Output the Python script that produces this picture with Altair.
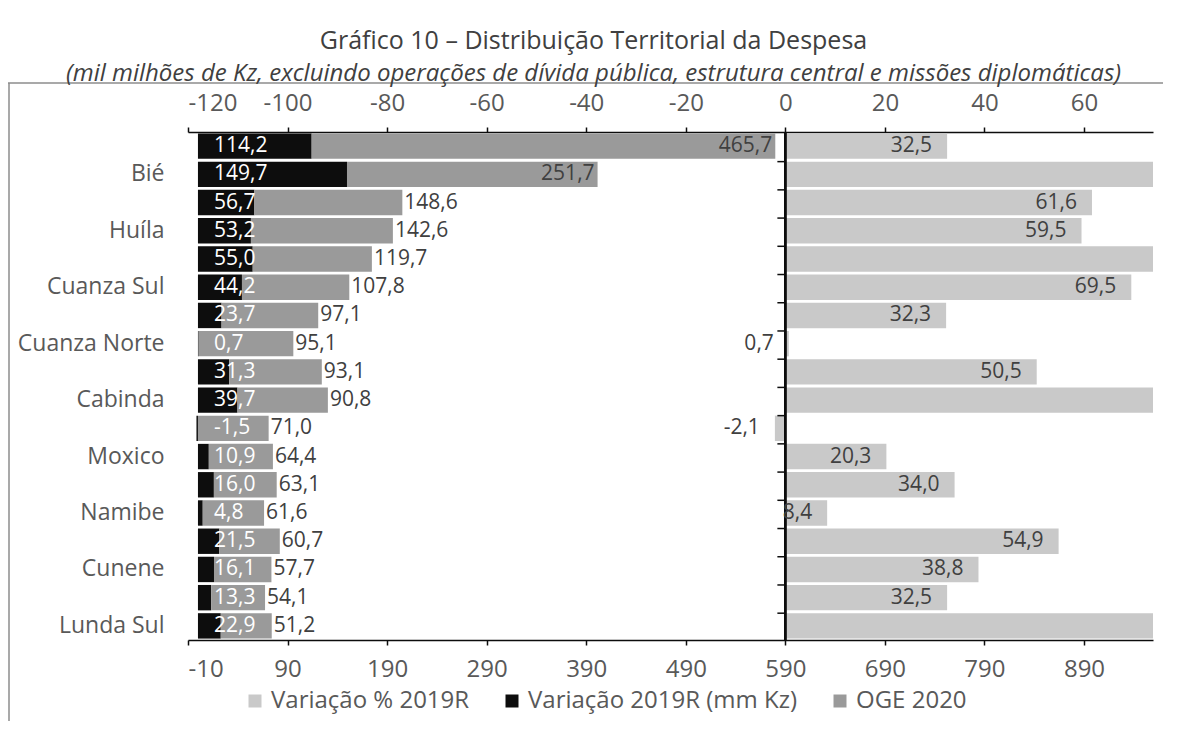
import json
import altair as alt
import pandas as pd

# ---------------- data ----------------
provinces = ["Luanda", "Bié", "Benguela", "Huíla", "Huambo", "Cuanza Sul",
             "Malanje", "Cuanza Norte", "Uíge", "Cabinda", "Zaire", "Moxico",
             "Lunda Norte", "Namibe", "Cuando Cubango", "Cunene", "Bengo", "Lunda Sul"]
shown_labels = ["Bié", "Huíla", "Cuanza Sul", "Cuanza Norte", "Cabinda",
                "Moxico", "Namibe", "Cunene", "Lunda Sul"]
var_mm = [114.2, 149.7, 56.7, 53.2, 55.0, 44.2, 23.7, 0.7, 31.3, 39.7,
          -1.5, 10.9, 16.0, 4.8, 21.5, 16.1, 13.3, 22.9]
oge = [465.7, 251.7, 148.6, 142.6, 119.7, 107.8, 97.1, 95.1, 93.1, 90.8,
       71.0, 64.4, 63.1, 61.6, 60.7, 57.7, 54.1, 51.2]
var_pct = [32.5, 146.8, 61.6, 59.5, 85.0, 69.5, 32.3, 0.7, 50.5, 77.7,
           -2.1, 20.3, 34.0, 8.4, 54.9, 38.8, 32.5, 80.9]

series_names = ["Variação % 2019R", "Variação 2019R (mm Kz)", "OGE 2020"]
series_colors = ["#c9c9c9", "#0d0d0d", "#9a9a9a"]

mm_domain = [-10, 959.3]
pct_domain = [-120, 73.86]
mm_ticks = list(range(-10, 891, 100))
pct_ticks = list(range(-120, 61, 20))

FONT = "Open Sans"
GREY_TXT = "#595959"
DARK_TXT = "#404040"

# ---------------- tables ----------------
df = pd.DataFrame({"prov": provinces, "idx": list(range(len(provinces))),
                   "var_mm": var_mm, "oge": oge, "pct": var_pct})
long = pd.concat([
    pd.DataFrame({"prov": provinces, "value": var_mm,
                  "series": series_names[1], "ord": 0}),
    pd.DataFrame({"prov": provinces, "value": oge,
                  "series": series_names[2], "ord": 1}),
], ignore_index=True)

def lab(field):
    return f"replace(replace(format(datum.{field}, '.1f'), '.', ','), '\u2212', '-')"

label_expr = (f"indexof({json.dumps(shown_labels, ensure_ascii=False)}, datum.value) >= 0"
              " ? datum.value : ''")

y_scale = alt.Scale(paddingInner=0.1, paddingOuter=0.05)
y_axis = alt.Axis(orient="left", domain=False, ticks=False, title=None,
                  labelExpr=label_expr, labelFont=FONT, labelFontSize=23,
                  labelColor=GREY_TXT, labelPadding=24, labelLimit=300)
y_enc = alt.Y("prov:N", sort=provinces, scale=y_scale, axis=y_axis)

color_enc = alt.Color(
    "series:N",
    scale=alt.Scale(domain=series_names, range=series_colors),
    legend=alt.Legend(orient="none", legendX=55, legendY=557,
                      direction="horizontal", title=None, symbolType="square",
                      symbolSize=169, symbolStrokeWidth=0, labelFont=FONT,
                      labelFontSize=24, labelColor=GREY_TXT, columnPadding=30,
                      labelOffset=4, labelLimit=500),
)

mm_scale = alt.Scale(domain=mm_domain, nice=False, zero=False)
pct_scale = alt.Scale(domain=pct_domain, nice=False, zero=False)

axis_common = dict(title=None, grid=False, domainColor="#0d0d0d", domainWidth=1.5,
                   tickColor="#0d0d0d", tickWidth=1.5, tickSize=5,
                   labelFont=FONT, labelFontSize=24, labelColor=GREY_TXT,
                   labelExpr="'' + datum.value")
mm_axis = alt.Axis(orient="bottom", values=mm_ticks, labelPadding=12, **axis_common)
pct_axis = alt.Axis(orient="top", values=pct_ticks, labelPadding=12, **axis_common)

# ---------------- layer A: mm Kz (bottom scale) ----------------
stack_bars = alt.Chart(long).mark_bar().encode(
    x=alt.X("value:Q", stack="zero", scale=mm_scale, axis=mm_axis),
    y=y_enc,
    color=color_enc,
    order=alt.Order("ord:Q"),
)

black_txt = alt.Chart(df).transform_calculate(lab=lab("var_mm")).mark_text(
    align="left", dx=16, color="white", font=FONT, fontSize=21
).encode(x=alt.datum(0), y=y_enc, text="lab:N")

oge_out = alt.Chart(df).transform_calculate(
    end="datum.oge + max(datum.var_mm, 0)", lab=lab("oge")
).transform_filter("datum.oge < 200").mark_text(
    align="left", dx=2, color=DARK_TXT, font=FONT, fontSize=21
).encode(x="end:Q", y=y_enc, text="lab:N")

oge_in = alt.Chart(df).transform_calculate(
    end="datum.oge + max(datum.var_mm, 0)", lab=lab("oge")
).transform_filter("datum.oge >= 200").mark_text(
    align="right", dx=-3, color=DARK_TXT, font=FONT, fontSize=21
).encode(x="end:Q", y=y_enc, text="lab:N")

layer_mm = alt.layer(stack_bars, black_txt, oge_out, oge_in)

# ---------------- layer B: % (top scale) ----------------
pct_bars = alt.Chart(df).transform_calculate(
    series=f"'{series_names[0]}'"
).mark_bar(clip=True).encode(
    x=alt.X("pct:Q", scale=pct_scale, axis=pct_axis),
    y=y_enc,
    color=color_enc,
)

pct_txt = alt.Chart(df).transform_filter(
    f"datum.pct <= {pct_domain[1]}"
).transform_calculate(lab=lab("pct")).mark_text(
    align="right", dx=-15, color=DARK_TXT, font=FONT, fontSize=21
).encode(x="pct:Q", y=y_enc, text="lab:N")

zero_rule = alt.Chart(df).mark_rule(color="#0d0d0d", strokeWidth=1.5).encode(
    x=alt.datum(0)
)

row_ticks = alt.Chart(df).transform_filter("datum.idx > 0").mark_rule(
    color="#0d0d0d", strokeWidth=1.5
).encode(
    x=alt.datum(-1.6), x2=alt.datum(0),
    y=alt.Y("prov:N", sort=provinces, bandPosition=0, scale=y_scale, axis=y_axis),
)

frame = pd.DataFrame({"k": [0]})
frame_top = alt.Chart(frame).mark_rule(color="#8c8c8c", strokeWidth=1.5).encode(
    x=alt.value(-180), x2=alt.value(1000), y=alt.value(-49)
)
frame_left = alt.Chart(frame).mark_rule(color="#8c8c8c", strokeWidth=1.5).encode(
    x=alt.value(-179), y=alt.value(-49), y2=alt.value(620)
)

layer_pct = alt.layer(pct_bars, zero_rule, row_ticks, pct_txt, frame_top, frame_left)

chart = alt.layer(layer_mm, layer_pct).resolve_scale(x="independent").properties(
    width=965,
    height=508,
    padding={"left": 180, "top": 124, "right": 10, "bottom": 81},
    autosize=alt.AutoSizeParams(type="none"),
    title=alt.Title(
        text="Gráfico 10 – Distribuição Territorial da Despesa",
        subtitle="(mil milhões de Kz, excluindo operações de dívida pública, estrutura central e missões diplomáticas)",
        font=FONT, fontSize=25, fontWeight="normal", color=DARK_TXT,
        subtitleFont=FONT, subtitleFontSize=24, subtitleFontStyle="italic",
        subtitleColor=DARK_TXT, subtitlePadding=8,
        anchor="middle", dx=-77, dy=18, offset=14,
    ),
).configure_view(stroke=None)

chart.save("out.html", embed_options={"renderer": "svg", "actions": False})
